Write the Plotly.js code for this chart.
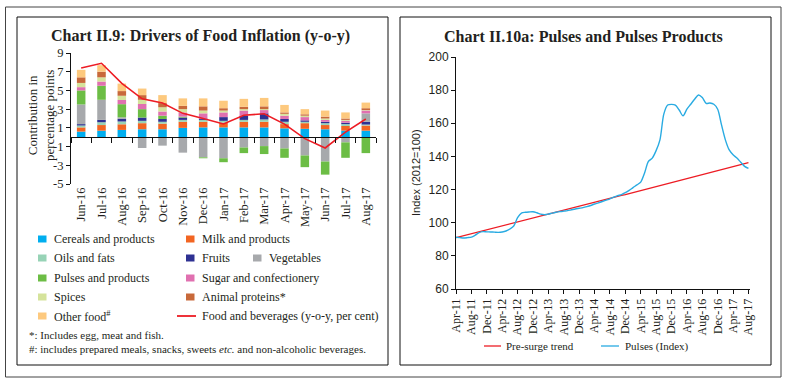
<!DOCTYPE html>
<html><head><meta charset="utf-8">
<script src="https://cdn.plot.ly/plotly-3.0.1.min.js"></script>
<style>html,body{margin:0;padding:0;background:#fff}#chart{width:788px;height:384px}</style>
</head><body><div id="chart"></div>
<script>
// ---------- Chart II.9 data ----------
const months = ['Jun-16','Jul-16','Aug-16','Sep-16','Oct-16','Nov-16','Dec-16','Jan-17','Feb-17','Mar-17','Apr-17','May-17','Jun-17','Jul-17','Aug-17'];
const cereals    = [0.60,0.70,0.78,0.85,0.85,1.00,1.05,1.05,1.05,1.05,0.95,0.90,0.85,0.70,0.70];
const milk       = [0.45,0.60,0.60,0.65,0.60,0.65,0.60,0.50,0.60,0.60,0.45,0.60,0.45,0.50,0.55];
const oils       = [0.20,0.30,0.30,0.25,0.20,0.20,0.20,0.20,0.20,0.25,0.25,0.15,0.20,0.20,0.10];
const fruits     = [0.15,0.25,0.28,0.35,0.30,0.25,0.15,0.40,0.45,0.65,0.30,0.15,0.15,0.15,0.30];
const vegetables = [2.10,2.15,0.17,-1.15,-0.90,-1.65,-2.15,-2.25,-1.10,-0.95,-1.20,-1.95,-2.60,-0.55,0.90];
const pulses     = [1.50,1.50,1.40,0.90,0.35,0.10,-0.10,-0.42,-0.60,-0.85,-1.00,-1.25,-1.40,-1.65,-1.70];
const sugar      = [0.35,0.45,0.45,0.55,0.45,0.45,0.55,0.50,0.55,0.35,0.35,0.35,0.20,0.20,0.30];
const spices     = [0.45,0.45,0.45,0.45,0.45,0.35,0.30,0.20,0.15,0.10,0.20,0.15,0.15,0.10,0.05];
const animal     = [0.60,0.60,0.50,0.50,0.45,0.35,0.45,0.25,0.25,0.30,0.15,0.15,0.20,0.15,0.20];
const otherFood  = [0.80,0.70,0.80,0.70,0.85,0.80,0.85,0.80,0.85,0.90,0.80,0.55,0.65,0.65,0.60];
const foodBev    = [7.40,7.90,5.75,4.10,3.65,2.55,2.00,1.42,2.35,2.50,1.40,-0.15,-1.15,0.55,1.95];
const leftTicks  = [-5,-3,-1,1,3,5,7,9];

// ---------- Chart II.10a data ----------
const monNames = ['Jan','Feb','Mar','Apr','May','Jun','Jul','Aug','Sep','Oct','Nov','Dec'];
const pulseMonths = [];
for (let y = 11; y <= 17; y++) for (let m = 0; m < 12; m++) {
  if (y === 11 && m < 3) continue;
  if (y === 17 && m > 7) continue;
  pulseMonths.push(monNames[m] + '-' + y);
}
const pulsesIndex = [91.2,91.0,90.8,91.0,91.3,92.5,94.0,94.6,94.5,94.4,94.3,94.2,
  94.4,95.0,96.2,98.0,103.0,105.8,106.3,106.5,106.6,106.0,105.2,104.9,
  105.2,105.8,106.3,106.7,107.0,107.3,107.8,108.3,108.7,109.1,109.7,110.4,
  111.3,112.0,112.8,113.6,114.4,115.4,116.3,117.0,118.1,119.5,121.2,122.8,
  124.5,130.0,137.0,139.0,143.5,150.0,165.5,171.0,171.4,171.0,168.0,164.5,
  168.5,171.5,174.5,177.1,175.5,172.0,172.2,171.5,168.5,159.0,150.0,143.9,
  141.0,139.0,136.5,134.0,132.8];
const preSurge = [91.0,91.6,92.2,92.8,93.4,94.0,94.6,95.1,95.7,96.3,96.9,97.5,
  98.1,98.7,99.3,99.9,100.5,101.1,101.7,102.2,102.8,103.4,104.0,104.6,
  105.2,105.8,106.4,107.0,107.6,108.2,108.8,109.4,109.9,110.5,111.1,111.7,
  112.3,112.9,113.5,114.1,114.7,115.3,115.9,116.5,117.0,117.6,118.2,118.8,
  119.4,120.0,120.6,121.2,121.8,122.4,123.0,123.6,124.2,124.7,125.3,125.9,
  126.8,127.4,128.0,128.6,129.2,129.7,130.3,130.9,131.5,132.1,132.7,133.3,
  133.9,134.5,135.0,135.6,136.2];
const rightTicks = pulseMonths.filter((_, i) => i % 4 === 0);

// ---------- helpers ----------
const W = 788, H = 384;
const X = p => p / W, Y = p => 1 - p / H;
const SERIF = 'Liberation Serif, Times New Roman, serif';
const SANS = 'Liberation Sans, Arial, sans-serif';
const TXT = '#231f20';

const barSeries = [
  ['Cereals and products', cereals, '#00aeef'],
  ['Milk and products', milk, '#f26522'],
  ['Oils and fats', oils, '#97d3b6'],
  ['Fruits', fruits, '#2e3192'],
  ['Vegetables', vegetables, '#a7a9ac'],
  ['Pulses and products', pulses, '#6cbd45'],
  ['Sugar and confectionery', sugar, '#e070b0'],
  ['Spices', spices, '#d5e39b'],
  ['Animal proteins*', animal, '#c8693a'],
  ['Other food#', otherFood, '#fdc97e']
];

const traces = barSeries.map(([name, vals, color]) => ({
  type: 'bar', name, x: months, y: vals, xaxis: 'x', yaxis: 'y',
  marker: {color, line: {width: 0}}, showlegend: false, hoverinfo: 'name+y'
}));
traces.push({type: 'scatter', mode: 'lines', name: 'Food and beverages', x: months, y: foodBev,
  xaxis: 'x3', yaxis: 'y', line: {color: '#ed1c24', width: 1.6}, showlegend: false});
traces.push({type: 'scatter', mode: 'lines', name: 'Pre-surge trend', x: pulseMonths, y: preSurge,
  xaxis: 'x2', yaxis: 'y2', line: {color: '#ed1c24', width: 1.3}, showlegend: false});
traces.push({type: 'scatter', mode: 'lines', name: 'Pulses (Index)', x: pulseMonths, y: pulsesIndex,
  xaxis: 'x2', yaxis: 'y2', line: {color: '#29abe2', width: 1.4, shape: 'spline', smoothing: 0.8}, showlegend: false});

const shapes = [
  {type: 'rect', xref: 'paper', yref: 'paper', x0: X(5.5), x1: X(781), y0: Y(377), y1: Y(7), line: {color: '#444', width: 1}},
  {type: 'rect', xref: 'paper', yref: 'paper', x0: X(17), x1: X(388), y0: Y(365), y1: Y(17), line: {color: '#111', width: 1}},
  {type: 'rect', xref: 'paper', yref: 'paper', x0: X(400), x1: X(771), y0: Y(365), y1: Y(17), line: {color: '#111', width: 1}}
];
const annotations = [];
const ann = (text, x, y, o = {}) => annotations.push(Object.assign({
  text, x: X(x), y: Y(y), xref: 'paper', yref: 'paper', showarrow: false,
  xanchor: 'left', yanchor: 'middle', font: {family: SERIF, size: 12, color: TXT}
}, o));

// titles
ann('<b>Chart II.9: Drivers of Food Inflation (y-o-y)</b>', 200, 36, {xanchor: 'center', font: {family: SERIF, size: 16, color: TXT}});
ann('<b>Chart II.10a: Pulses and Pulses Products</b>', 583, 36, {xanchor: 'center', font: {family: SERIF, size: 16, color: TXT}});
ann('Contribution in<br>percentage points', 41, 116, {xanchor: 'center', textangle: -90, font: {family: SERIF, size: 13, color: TXT}});
ann('Index (2012=100)', 416, 173, {xanchor: 'center', textangle: -90, font: {family: SANS, size: 11, color: TXT}});

// left legend
const legPos = [[38, 239], [186, 239], [38, 258], [186, 258], [253, 258], [38, 278], [186, 278], [38, 297], [186, 297], [38, 316]];
const legLabels = ['Cereals and products', 'Milk and products', 'Oils and fats', 'Fruits', 'Vegetables',
  'Pulses and products', 'Sugar and confectionery', 'Spices', 'Animal proteins*', 'Other food<sup>#</sup>'];
legLabels.forEach((lab, i) => {
  const s = barSeries.find(b => b[0].replace('#', '') === lab.replace('<sup>#</sup>', ''));
  const [px, py] = legPos[i];
  shapes.push({type: 'rect', xref: 'paper', yref: 'paper', x0: X(px), x1: X(px + 8.5), y0: Y(py + 3.5), y1: Y(py - 3.5),
    fillcolor: s[2], line: {width: 0}});
  ann(lab, px + 14, py);
});
shapes.push({type: 'line', xref: 'paper', yref: 'paper', x0: X(177), x1: X(196), y0: Y(316), y1: Y(316), line: {color: '#ed1c24', width: 1.8}});
ann('Food and beverages (y-o-y, per cent)', 200, 316);
ann('*: Includes egg, meat and fish.', 27, 335, {font: {family: SERIF, size: 11, color: TXT}});
ann('#: includes prepared meals, snacks, sweets <i>etc.</i> and non-alcoholic beverages.', 27, 349, {font: {family: SERIF, size: 11, color: TXT}});

// right legend
shapes.push({type: 'line', xref: 'paper', yref: 'paper', x0: X(484), x1: X(501), y0: Y(346), y1: Y(346), line: {color: '#ed1c24', width: 1.3}});
ann('Pre-surge trend', 504, 346, {font: {family: SERIF, size: 11, color: TXT}});
shapes.push({type: 'line', xref: 'paper', yref: 'paper', x0: X(601), x1: X(619), y0: Y(346), y1: Y(346), line: {color: '#29abe2', width: 1.3}});
ann('Pulses (Index)', 623, 346, {font: {family: SERIF, size: 11, color: TXT}});

const tickFont = {family: SERIF, size: 12.5, color: TXT};
const layout = {
  width: W, height: H, margin: {l: 0, r: 0, t: 0, b: 0},
  paper_bgcolor: '#fff', plot_bgcolor: 'rgba(0,0,0,0)',
  barmode: 'relative', bargap: 0.58, showlegend: false,
  xaxis: {domain: [X(71), X(376)], anchor: 'y', type: 'category', categoryorder: 'array', categoryarray: months,
    range: [-0.5, 14.5], tickangle: -90, ticks: '', showline: false, showgrid: false, zeroline: false,
    tickfont: tickFont, fixedrange: true},
  xaxis3: {overlaying: 'x', anchor: 'free', position: Y(137.3), type: 'category', categoryorder: 'array', categoryarray: months,
    range: [-0.5, 14.5], showline: true, linecolor: '#111', linewidth: 1, ticks: 'outside', tickson: 'boundaries',
    ticklen: 5, tickcolor: '#111', showticklabels: false, showgrid: false, zeroline: false},
  yaxis: {domain: [Y(184), Y(53)], anchor: 'x', range: [-5, 9], tickvals: leftTicks, ticktext: leftTicks.map(v => String(v)),
    showline: true, linecolor: '#111', linewidth: 1, ticks: 'outside', ticklen: 4, tickcolor: '#111',
    showgrid: false, zeroline: false, tickfont: tickFont},
  xaxis2: {domain: [X(456), X(750)], anchor: 'y2', type: 'category', categoryorder: 'array', categoryarray: pulseMonths,
    range: [0, 76.4], tickvals: rightTicks, ticktext: rightTicks, tickangle: -90, ticks: 'outside', ticklen: 4, tickcolor: '#111',
    showline: true, linecolor: '#111', linewidth: 1, showgrid: false, zeroline: false, tickfont: {family: SERIF, size: 12, color: TXT}},
  yaxis2: {domain: [Y(289), Y(57)], anchor: 'x2', range: [60, 200], dtick: 20, tick0: 60,
    showline: true, linecolor: '#111', linewidth: 1, ticks: 'outside', ticklen: 4, tickcolor: '#111',
    showgrid: false, zeroline: false, tickfont: {family: SANS, size: 12, color: TXT}},
  shapes, annotations
};
Plotly.newPlot('chart', traces, layout, {displayModeBar: false, staticPlot: true});
</script></body></html>
